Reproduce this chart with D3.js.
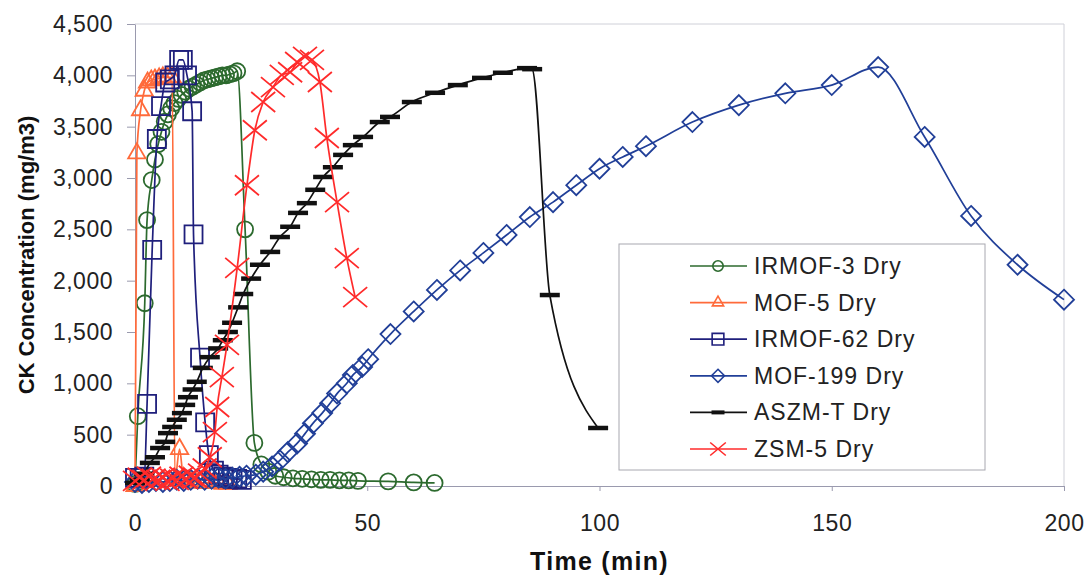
<!DOCTYPE html>
<html lang="en">

<head>
    <meta charset="UTF-8">
    <title>CK Concentration</title>
    <style>
        body {
            margin: 0;
            background: #fff;
            font-family: 'Liberation Sans', Arial, sans-serif;
        }

        .axis text {
            fill: #222;
            font-size: 23px;
            letter-spacing: 0.5px;
            font-family: 'Liberation Sans', Arial, sans-serif;
        }

        .axis path,
        .axis line {
            stroke: #9a9aae;
        }

        .title {
            fill: #111;
            font-weight: bold;
        }

        .legend text {
            fill: #222;
            font-size: 23px;
            letter-spacing: 1px;
        }
    </style>
</head>

<body>
    <div id='chart'></div>
</body>

</html>
<script src="https://cdnjs.cloudflare.com/ajax/libs/d3/7.8.5/d3.min.js"></script>
<script>
    // tick labels
    const xTicks = [0, 50, 100, 150, 200];
    const yTicks = [0, 500, 1000, 1500, 2000, 2500, 3000, 3500, 4000, 4500];

    // IRMOF-3 Dry
    const irmof3Time = [0, 0.6, 2.1, 2.6, 3.6, 4.3, 5, 5.7, 6.4, 7.1, 7.8, 8.5, 9.3, 10, 10.8, 11.6, 12.4, 13.2, 14,
        14.8, 15.6, 16.4, 17.2, 18, 18.8, 19.6, 20.4, 21.2, 22, 23.7, 25.7, 27.2, 28.7, 30.2, 32, 34, 36, 38, 40, 42,
        44, 46, 48, 54.5, 60, 64.5];
    const irmof3Conc = [20, 680, 1780, 2590, 2980, 3180, 3330, 3450, 3550, 3620, 3680, 3730, 3770, 3810, 3840, 3870,
        3890, 3910, 3930, 3950, 3960, 3970, 3980, 3990, 4000, 4000, 4010, 4020, 4040, 2500, 420, 210, 140, 100, 85, 75,
        70, 65, 60, 60, 55, 55, 50, 45, 35, 30];

    // MOF-5 Dry
    const mof5Time = [0, 0.4, 1.2, 2, 2.7, 3.5, 4.3, 5.2, 6, 7, 8, 8.6, 9.6, 10.4, 11, 12, 13, 14, 15, 16, 17, 18, 19, 20];
    const mof5Conc = [0, 3240, 3660, 3850, 3930, 3950, 3960, 3970, 3980, 3980, 3980, 60, 360, 80, 50, 40, 40, 30, 30,
        30, 30, 30, 20, 20];

    // IRMOF-62 Dry
    const irmof62Time = [0, 1, 2, 2.6, 3.7, 4.7, 5.6, 6.5, 7.5, 8.5, 9.5, 10.3, 11.2, 12.3, 12.6, 14, 15.1, 15.9, 17,
        18, 19, 20, 21, 22, 23];
    const irmof62Conc = [80, 80, 90, 800, 2300, 3380, 3700, 3930, 3960, 4000, 4150, 4150, 4000, 3650, 2450, 1250, 620,
        300, 150, 110, 90, 80, 70, 70, 60];

    // MOF-199 Dry
    const mof199Time = [0, 1.5, 3, 4.5, 6, 7.5, 9, 10.5, 12, 13.5, 15, 16.5, 18, 19.5, 21, 22.5, 24, 26, 27.6, 29.5,
        31.2, 32.9, 34.9, 36.6, 38.3, 40.3, 42, 43.5, 45.6, 46.9, 48.9, 50.2, 55, 60, 65, 70, 75, 80, 85, 90, 95, 100,
        105, 110, 120, 130, 140, 150, 160, 170, 180, 190, 200];
    const mof199Conc = [40, 30, 40, 50, 40, 50, 60, 50, 60, 70, 60, 70, 80, 70, 80, 90, 100, 110, 140, 190, 250, 330,
        415, 510, 610, 710, 805, 900, 1000, 1080, 1160, 1235, 1480, 1700, 1910, 2100, 2270, 2445, 2620, 2765, 2930,
        3090, 3205, 3310, 3545, 3710, 3825, 3905, 4080, 3400, 2630, 2155, 1815];

    // ASZM-T Dry
    const aszmTime = [0, 1, 2, 3.2, 4.3, 5.4, 6.5, 7.1, 8, 9, 10.1, 10.8, 11.4, 12.4, 13.3, 14.6, 16.1, 17.9, 18.9, 20,
        20.9, 22.2, 23.3, 25, 26.9, 29.1, 31.2, 33.4, 35.1, 37, 38.8, 40.5, 42.6, 44.8, 46.9, 49.1, 52.7, 54.9, 59.6,
        64.6, 69.5, 74.7, 79.2, 84.4, 85.5, 89.3, 99.7];
    const aszmConc = [30, 60, 120, 225, 280, 370, 430, 515, 575, 645, 710, 790, 865, 940, 1015, 1150, 1255, 1340, 1420,
        1500, 1590, 1740, 1870, 2020, 2155, 2280, 2425, 2525, 2660, 2755, 2885, 3010, 3105, 3225, 3320, 3400, 3545,
        3595, 3740, 3830, 3905, 3975, 4025, 4070, 4060, 1860, 565];

    // ZSM-5 Dry
    const zsm5Time = [0, 1, 2, 3, 4, 5, 6, 7, 8, 9, 10, 11, 12, 13, 14, 15, 16.1, 17.2, 17.7, 18.7, 19.8, 22, 24.1, 25.8,
        27.6, 29.7, 31.6, 33.4, 34.9, 36.6, 38.1, 39.8, 41.3, 43.5, 45.6, 47.4];
    const zsm5Conc = [50, 80, 60, 90, 70, 60, 80, 50, 70, 60, 90, 70, 100, 80, 120, 170, 280, 525, 770, 1060, 1375,
        2125, 2930, 3465, 3740, 3885, 4005, 4030, 4130, 4180, 4150, 3935, 3390, 2765, 2220, 1840];

    const series = [
        { name: 'IRMOF-3 Dry', time: irmof3Time, conc: irmof3Conc, color: '#2c6a2e', marker: 'circle' },
        { name: 'MOF-5 Dry', time: mof5Time, conc: mof5Conc, color: '#ff6a3a', marker: 'triangle' },
        { name: 'IRMOF-62 Dry', time: irmof62Time, conc: irmof62Conc, color: '#1f1f7c', marker: 'square' },
        { name: 'MOF-199 Dry', time: mof199Time, conc: mof199Conc, color: '#213f98', marker: 'diamond' },
        { name: 'ASZM-T Dry', time: aszmTime, conc: aszmConc, color: '#111111', marker: 'dash' },
        { name: 'ZSM-5 Dry', time: zsm5Time, conc: zsm5Conc, color: '#ff2b2b', marker: 'cross' }
    ];

    const W = 1086, H = 581;
    const margin = { top: 24, right: 22, bottom: 95, left: 135 };
    const width = W - margin.left - margin.right;
    const height = H - margin.top - margin.bottom;

    // marker shapes, k = scale
    function markerPath(type, k) {
        if (type === 'circle') return d3.symbol().type(d3.symbolCircle).size(Math.PI * 64 * k * k)();
        if (type === 'square') return d3.symbol().type(d3.symbolSquare).size(324 * k * k)();
        if (type === 'diamond') {
            const r = 10 * k;
            return 'M0,' + (-r) + 'L' + r + ',0L0,' + r + 'L' + (-r) + ',0Z';
        }
        if (type === 'triangle') return d3.symbol().type(d3.symbolTriangle).size(130 * k * k)();
        if (type === 'cross') {
            const a = 12 * k, b = 10 * k;
            return 'M' + (-a) + ',' + (-b) + 'L' + a + ',' + b + 'M' + (-a) + ',' + b + 'L' + a + ',' + (-b);
        }
        // dash
        const d = 10 * k;
        return 'M' + (-d) + ',0L' + d + ',0';
    }

    const svg = d3.select('#chart').append('svg')
        .attr('width', W)
        .attr('height', H);

    const g = svg.append('g')
        .attr('transform', 'translate(' + margin.left + ',' + margin.top + ')');

    const xScale = d3.scaleLinear().domain([0, 200]).range([0, width]);
    const yScale = d3.scaleLinear().domain([0, 4500]).range([height, 0]);

    // plot area border (top / right)
    g.append('path')
        .attr('d', 'M0,0H' + width + 'V' + height)
        .attr('fill', 'none')
        .attr('stroke', '#cfd0d8')
        .attr('stroke-width', 1);

    // axes
    g.append('g')
        .attr('class', 'axis')
        .attr('transform', 'translate(0,' + height + ')')
        .call(d3.axisBottom(xScale).tickValues(xTicks).tickSize(5).tickPadding(24).tickSizeOuter(0));

    g.append('g')
        .attr('class', 'axis')
        .call(d3.axisLeft(yScale).tickValues(yTicks).tickFormat(d3.format(',')).tickSize(8).tickPadding(14).tickSizeOuter(0));

    // series
    const line = d3.line()
        .x(function (d) { return xScale(d[0]); })
        .y(function (d) { return yScale(d[1]); })
        .curve(d3.curveMonotoneX);

    series.forEach(function (s) {
        const pts = s.time.map(function (t, i) { return [t, s.conc[i]]; });
        const sg = g.append('g');
        sg.append('path')
            .datum(pts)
            .attr('d', line)
            .attr('fill', 'none')
            .attr('stroke', s.color)
            .attr('stroke-width', 1.7);
        sg.selectAll('path.mk')
            .data(pts)
            .enter().append('path')
            .attr('class', 'mk')
            .attr('transform', function (d) { return 'translate(' + xScale(d[0]) + ',' + yScale(d[1]) + ')'; })
            .attr('d', markerPath(s.marker, 1))
            .attr('fill', 'none')
            .attr('stroke', s.color)
            .attr('stroke-width', s.marker === 'dash' ? 4.5 : 1.8);
    });

    // axis titles
    svg.append('text')
        .attr('class', 'title')
        .attr('transform', 'translate(34,' + (margin.top + height / 2) + ') rotate(-90)')
        .attr('text-anchor', 'middle')
        .attr('font-size', 22)
        .text('CK Concentration (mg/m3)');

    svg.append('text')
        .attr('class', 'title')
        .attr('x', margin.left + width / 2)
        .attr('y', 570)
        .attr('text-anchor', 'middle')
        .attr('font-size', 25)
        .attr('letter-spacing', 1.3)
        .text('Time (min)');

    // legend
    const legend = svg.append('g')
        .attr('class', 'legend')
        .attr('transform', 'translate(619,244)');

    legend.append('rect')
        .attr('width', 366)
        .attr('height', 226)
        .attr('fill', '#fff')
        .attr('stroke', '#a8a8b0')
        .attr('stroke-width', 1);

    const item = legend.selectAll('.item')
        .data(series)
        .enter().append('g')
        .attr('class', 'item')
        .attr('transform', function (d, i) { return 'translate(0,' + (22 + i * 36.6) + ')'; });

    item.append('line')
        .attr('x1', 71).attr('x2', 128)
        .attr('stroke', function (d) { return d.color; })
        .attr('stroke-width', 1.7);

    item.append('path')
        .attr('transform', 'translate(99,0)')
        .attr('d', function (d) { return markerPath(d.marker, 0.65); })
        .attr('fill', 'none')
        .attr('stroke', function (d) { return d.color; })
        .attr('stroke-width', function (d) { return d.marker === 'dash' ? 4 : 1.6; });

    item.append('text')
        .attr('x', 135)
        .attr('y', 8)
        .text(function (d) { return d.name; });
</script>
